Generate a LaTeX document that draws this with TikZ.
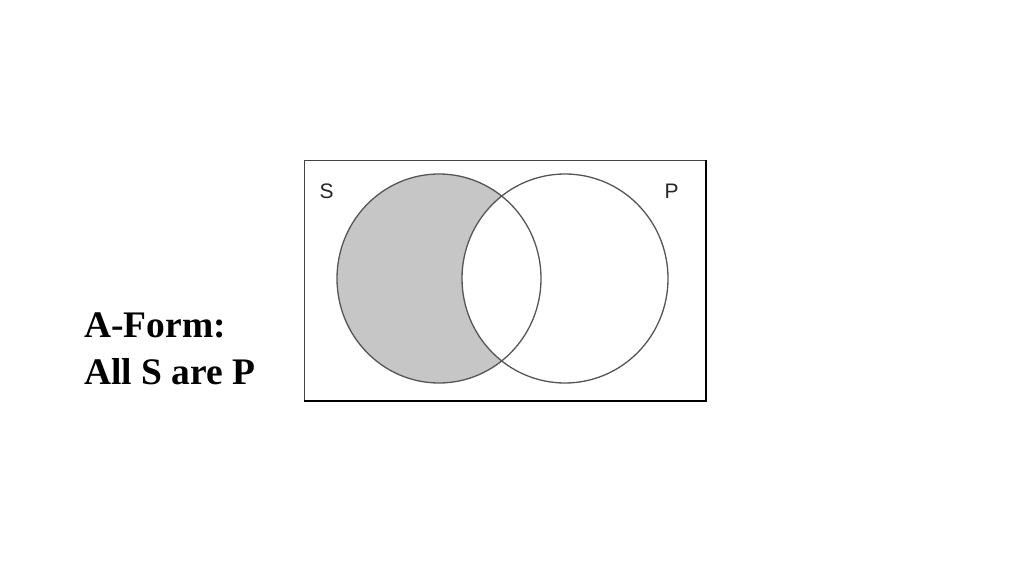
\documentclass[tikz,border=0pt]{standalone}
\usepackage{fontspec}
\setmainfont{Liberation Serif}
\newfontfamily\labelsans{Liberation Sans}
\definecolor{regionfill}{HTML}{C6C6C6}
\definecolor{ringline}{HTML}{555555}
\definecolor{boxline}{HTML}{444444}
\begin{document}
\begin{tikzpicture}[x=1pt,y=-1pt,
  ring/.style={draw=ringline,line width=1.3pt},
  setlabel/.style={font=\labelsans\fontsize{21}{21}\selectfont,text=black!85,inner sep=0pt,anchor=base},
  formtext/.style={font=\bfseries\fontsize{37.5}{37.5}\selectfont,inner sep=0pt,anchor=base west}]
\useasboundingbox (0,0) rectangle (1024,575);
\fill[white] (0,0) rectangle (1024,575);
% frame
\draw[boxline,line width=1pt] (304,401) -- (304,160) -- (706,160);
\draw[black,line width=2pt] (706,159.5) -- (706,401) -- (303.5,401);
% shaded region S minus P
\begin{scope}
  \clip (439,278.5) ellipse [x radius=102, y radius=104.5];
  \fill[regionfill,even odd rule] (439,278.5) ellipse [x radius=102, y radius=104.5]
     (565,278.5) ellipse [x radius=103, y radius=104.5];
\end{scope}
\draw[ring] (439,278.5) ellipse [x radius=102, y radius=104.5];
\draw[ring] (565,278.5) ellipse [x radius=103, y radius=104.5];
\node[setlabel] (S) at (326.5,198) {S};
\node[setlabel] (P) at (671.5,198) {P};
\node[formtext] (f1) at (84,337) {A-Form:};
\node[formtext] (f2) at (84,384) {All S are P};
\end{tikzpicture}
\end{document}
